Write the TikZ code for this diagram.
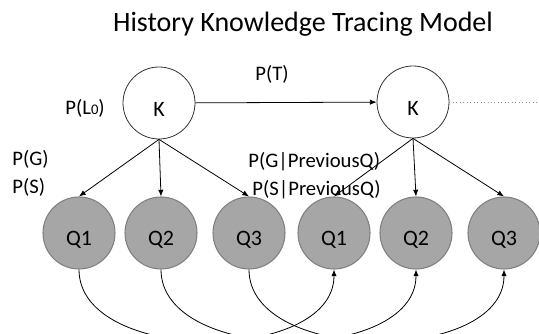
\documentclass[tikz,border=0pt]{standalone}
\usepackage{fontspec}
\setmainfont{Carlito}
\usetikzlibrary{arrows.meta}
\tikzset{
  kstate/.style={circle,draw=black!80,fill=white,minimum size=54pt,inner sep=0pt,line width=0.6pt},
  qstate/.style={circle,draw=black!50,fill=black!35,minimum size=54pt,inner sep=0pt,line width=0.8pt},
  inlbl/.style={font=\fontsize{16.5}{19}\selectfont,yshift=-5pt},
  lbl/.style={font=\fontsize{15.5}{18}\selectfont,inner sep=0pt}
}
\begin{document}
\begin{tikzpicture}[x=0.75pt,y=-0.75pt,>={Latex[length=5pt,width=4pt]},line width=0.6pt]
    \useasboundingbox (0,0) rectangle (539,334);
    \clip (0,0) rectangle (539,334);
    \node[font=\fontsize{21}{25}\selectfont,anchor=base] (title) at (303,32) {History Knowledge Tracing Model};

    \node[kstate,label={[inlbl]center:K}] (K1) at (159,103) {};
    \node[kstate,label={[inlbl]center:K}] (K2) at (413,102) {};
    \coordinate (tail) at (539,102);

    \foreach \n/\x in {1/79,2/161,3/249} {
        \node[qstate,label={[inlbl]center:Q\n}] (QA\n) at (\x,233) {};
    }
    \foreach \n/\x in {1/334,2/416,3/504} {
        \node[qstate,label={[inlbl]center:Q\n}] (QB\n) at (\x,233) {};
    }

    \draw[->] (K1) -- (K2);
    \draw[dotted,black!45] (K2.east) -- (tail);
    \foreach \n in {1,2,3} {
        \draw[->] (K1.south) -- (QA\n.north);
        \draw[->] (K2.south) -- (QB\n.north);
        \draw[->] (QA\n.south) .. controls +(0,95) and +(0,95) .. (QB\n.south);
    }

    \node[lbl,anchor=base] (PT) at (272,81) {P(T)};
    \node[lbl,anchor=base west] (PL) at (65,115) {P(L{\fontsize{11}{12}\selectfont 0})};
    \node[lbl,anchor=base west] (PG) at (12,166) {P(G)};
    \node[lbl,anchor=base west] (PS) at (12,194) {P(S)};
    \node[lbl,anchor=base west] (PGQ) at (248,168) {P(G|PreviousQ)};
    \node[lbl,anchor=base west] (PSQ) at (252,196) {P(S|PreviousQ)};
\end{tikzpicture}
\end{document}
